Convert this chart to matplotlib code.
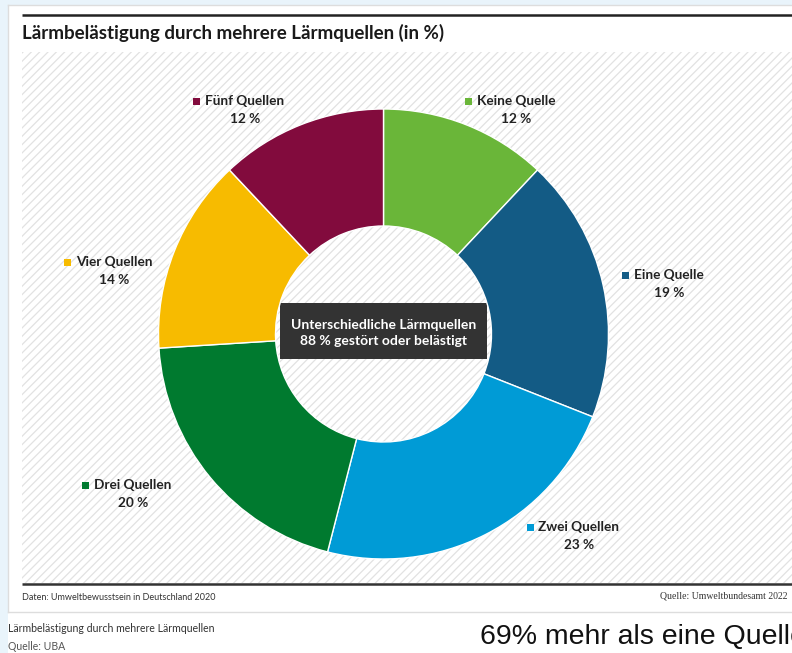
import matplotlib
matplotlib.use("Agg")
import matplotlib.pyplot as plt
from matplotlib.patches import Rectangle

# data
categories = ["Keine Quelle", "Eine Quelle", "Zwei Quellen", "Drei Quellen", "Vier Quellen", "Fünf Quellen"]
shares = [12, 19, 23, 20, 14, 12]
colors = ["#6ab639", "#135b85", "#009bd6", "#007a2f", "#f7bb00", "#820b3d"]
# label anchor (pixel centre of the name line)
label_pos = [(516, 101), (669, 275), (579, 527), (133, 485), (114, 262), (245, 101)]

title = "Lärmbelästigung durch mehrere Lärmquellen (in %)"
center_text = "Unterschiedliche Lärmquellen\n88 % gestört oder belästigt"

W, H = 792, 653
fig = plt.figure(figsize=(W / 100, H / 100), dpi=100)
fig.patch.set_facecolor("#e9f4fb")

# overlay axes in pixel coords
ov = fig.add_axes([0, 0, 1, 1])
ov.set_xlim(0, W)
ov.set_ylim(H, 0)
ov.axis("off")

FONT = "Lato"

ov.add_patch(Rectangle((8, 5), W - 8, H - 5, facecolor="white", edgecolor="none"))
ov.plot([8, W], [612, 612], color="#dddddd", lw=1)
ov.plot([8, 8], [5, 612], color="#dddddd", lw=1)
ov.plot([8, W], [5, 5], color="#dddddd", lw=1)

plt.rcParams["hatch.linewidth"] = 0.9
ov.add_patch(Rectangle((22, 52), W - 22, 531, facecolor="white",
                       edgecolor="#e2e2e2", hatch="////", lw=0))
ov.plot([22, W], [15, 15], color="#222222", lw=1.8, solid_capstyle="butt")
ov.plot([22, W], [584, 584], color="#333333", lw=1.8, solid_capstyle="butt")

ov.text(22, 33, title, fontsize=13.5, fontweight="bold", color="#1a1a1a",
        family=FONT, va="center", ha="left")

ov.text(22, 597, "Daten: Umweltbewusstsein in Deutschland 2020", fontsize=6.5,
        color="#333333", family=FONT, va="center", ha="left")
ov.text(788, 596, "Quelle: Umweltbundesamt 2022", fontsize=7, color="#333333",
        family="Liberation Serif", va="center", ha="right")

ov.text(8, 628, "Lärmbelästigung durch mehrere Lärmquellen", fontsize=7.6,
        color="#333333", family=FONT, va="center", ha="left")
ov.text(8, 647, "Quelle: UBA", fontsize=7.6, color="#555555", family=FONT,
        va="center", ha="left")
ov.text(480, 637, "69% mehr als eine Quelle", fontsize=20.5, color="#111111",
        family="Liberation Sans", va="center", ha="left", clip_on=False)

# labels
for name, val, col, (x, y) in zip(categories, shares, colors, label_pos):
    t = ov.text(x, y, name, fontsize=9.8, fontweight="bold", color="#222222",
                family=FONT, ha="center", va="center")
    ov.text(x, y + 18, f"{val} %", fontsize=9.8, fontweight="bold",
            color="#222222", family=FONT, ha="center", va="center")
    fig.canvas.draw()
    bb = t.get_window_extent()
    left = bb.x0 * W / fig.bbox.width
    ov.add_patch(Rectangle((left - 12, y - 3.5), 7, 7, facecolor=col, edgecolor="none"))

# centre box
ov.add_patch(Rectangle((280, 303), 207, 56, facecolor="#333333", edgecolor="none", zorder=3))
ov.text(383.5, 333, center_text, fontsize=10, fontweight="bold", color="white",
        family=FONT, ha="center", va="center", linespacing=1.45, zorder=4)

# donut
cx, cy, R = 383.5, 334, 225
s = 300
ax = fig.add_axes([(cx - s) / W, (H - cy - s) / H, 2 * s / W, 2 * s / H])
ax.patch.set_visible(False)
ax.pie(shares, colors=colors, startangle=90, counterclock=False, radius=1,
       wedgeprops=dict(width=0.52, edgecolor="white", linewidth=1))
ax.set_xlim(-s / R, s / R)
ax.set_ylim(-s / R, s / R)
ax.set_aspect("equal")
ax.axis("off")

fig.savefig("out.png", dpi=100)
